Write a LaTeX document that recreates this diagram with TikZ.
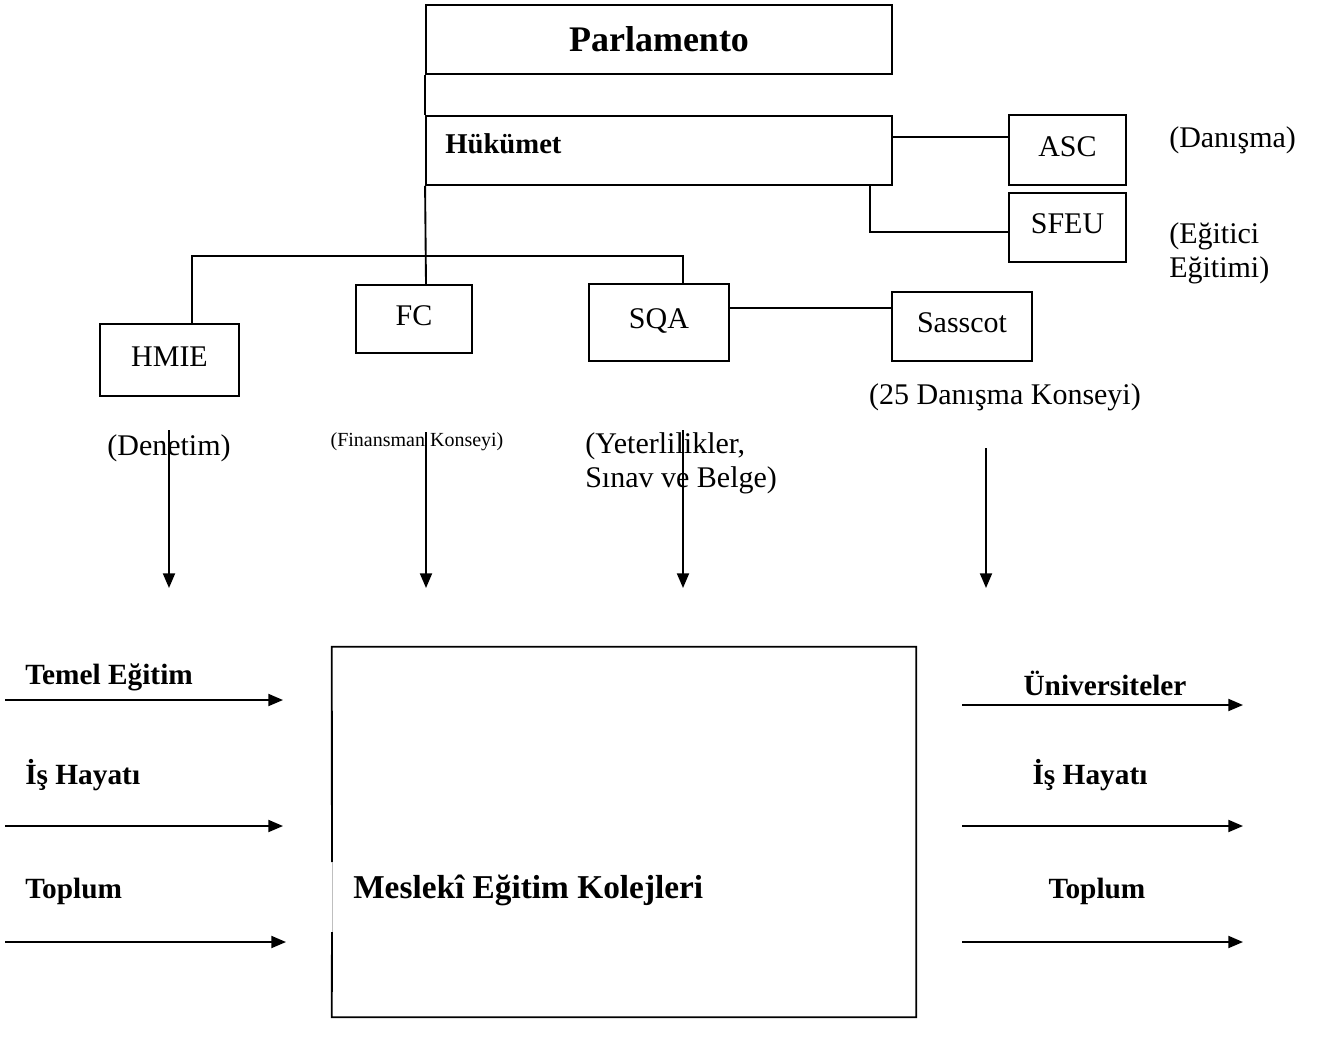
\documentclass[tikz,border=0pt]{standalone}
\usepackage{fontspec}
\setmainfont{Liberation Serif}
\usetikzlibrary{arrows.meta,fit}
\begin{document}
\begin{tikzpicture}[x=0.75pt,y=-0.75pt,
  box/.style={draw, line width=1.4pt, inner sep=0pt},
  conn/.style={line width=1.4pt},
  arr/.style={line width=1.4pt, -{Triangle[length=11pt,width=9pt]}},
  reg/.style={font=\fontsize{22.5}{25.5}\selectfont, inner sep=0pt},
  boxtext/.style={text height=16pt, text depth=7pt},
  lbl/.style={font=\fontsize{22}{26}\selectfont\bfseries, inner sep=0pt},
  small/.style={font=\fontsize{15}{18}\selectfont, inner sep=0pt}]
\fill[white] (0,0) rectangle (1321,1046);
\useasboundingbox (0,0) rectangle (1321,1046);

% top boxes
\node[box, minimum width=349.5pt, minimum height=51.75pt, font=\fontsize{27}{30}\selectfont\bfseries] (parl) at (659,39.5) {Parlamento};
\node[box, minimum width=349.5pt, minimum height=51.75pt] (huk) at (659,150.5) {};
\node[lbl, font=\fontsize{21.5}{26}\selectfont\bfseries, anchor=west] (hukt) at (445,144) {Hükümet};
\node[box, reg, boxtext, minimum width=87.75pt, minimum height=52.5pt] (asc) at (1067.5,150) {ASC};
\node[box, reg, boxtext, minimum width=87.75pt, minimum height=51.75pt] (sfeu) at (1067.5,227.5) {SFEU};
\node[reg, anchor=west] (dan) at (1169,140) {(Danışma)};
\node[reg, anchor=north west, align=left] (egt) at (1169,222) {(Eğitici\\Eğitimi)};

% helper coordinates
\coordinate (jasc) at (0,137);
\coordinate (jsfeu) at (870,232);
\coordinate (jl) at (192,256);
\coordinate (jm) at (426,256);
\coordinate (jr) at (683,256);
\coordinate (jsas) at (0,308);

% second row boxes
\node[box, reg, boxtext, minimum width=104.25pt, minimum height=54pt] (hmie) at (169.5,360) {HMIE};
\node[box, reg, boxtext, minimum width=87pt, minimum height=51pt] (fc) at (414,319) {FC};
\node[box, reg, boxtext, minimum width=105pt, minimum height=57.75pt] (sqa) at (659,322.5) {SQA};
\node[box, reg, boxtext, minimum width=105pt, minimum height=51.75pt] (sas) at (962,326.5) {Sasscot};

% connectors
\draw[conn] (parl.south west) -- (huk.north west);
\draw[conn] (huk.south west) -- (fc.north -| jm);
\draw[conn] (hmie.north -| jl) -- (jl) -- (jr) -- (sqa.north -| jr);
\draw[conn] (huk.east |- jasc) -- (asc.west |- jasc);
\draw[conn] (huk.south -| jsfeu) -- (jsfeu) -- (sfeu.west |- jsfeu);
\draw[conn] (sqa.east |- jsas) -- (sas.west |- jsas);

% descriptions
\node[reg] (den) at (169,448) {(Denetim)};
\node[small] (fin) at (417,442) {(Finansman Konseyi)};
\node[reg, anchor=north west, align=left] (yet) at (585,432) {(Yeterlilikler,\\Sınav ve Belge)};
\node[reg] (kon) at (1005,397) {(25 Danışma Konseyi)};

% down arrows
\coordinate (d1s) at (169,430); \coordinate (d1e) at (169,588);
\coordinate (d2s) at (426,432); \coordinate (d2e) at (426,588);
\coordinate (d3s) at (683,430); \coordinate (d3e) at (683,588);
\coordinate (d4s) at (986,448); \coordinate (d4e) at (986,588);
\draw[arr] (d1s) -- (d1e);
\draw[arr] (d2s) -- (d2e);
\draw[arr] (d3s) -- (d3e);
\draw[arr] (d4s) -- (d4e);

% colleges box
\node[inner sep=0pt, fit={(332,647) (916,1017)}] (coll) {};
\coordinate (g1) at (332,862);
\coordinate (g2) at (332,932);
\draw[conn] (g1) -- (coll.north west) -- (coll.north east) -- (coll.south east) -- (coll.south west) -- (g2);
\draw[line width=0.4pt, black!25] (g1) -- (g2);
\node[lbl, font=\fontsize{25}{30}\selectfont\bfseries, anchor=west] (collt) at (353,890) {Meslekî Eğitim Kolejleri};

% input arrows
\coordinate (i1s) at (5,700); \coordinate (i1e) at (283,700);
\coordinate (i2s) at (5,826); \coordinate (i2e) at (283,826);
\coordinate (i3s) at (5,942); \coordinate (i3e) at (286,942);
\draw[arr] (i1s) -- (i1e);
\draw[arr] (i2s) -- (i2e);
\draw[arr] (i3s) -- (i3e);
\node[lbl, anchor=west] (temel) at (25,677) {Temel Eğitim};
\node[lbl, anchor=west] (is1) at (25,775) {İş Hayatı};
\node[lbl, anchor=west] (top1) at (25,891) {Toplum};

% output arrows
\coordinate (o1s) at (962,705); \coordinate (o1e) at (1243,705);
\coordinate (o2s) at (962,826); \coordinate (o2e) at (1243,826);
\coordinate (o3s) at (962,942); \coordinate (o3e) at (1243,942);
\draw[arr] (o1s) -- (o1e);
\draw[arr] (o2s) -- (o2e);
\draw[arr] (o3s) -- (o3e);
\node[lbl] (uni) at (1105,683) {Üniversiteler};
\node[lbl] (is2) at (1090,775) {İş Hayatı};
\node[lbl] (top2) at (1097,891) {Toplum};
\end{tikzpicture}
\end{document}
